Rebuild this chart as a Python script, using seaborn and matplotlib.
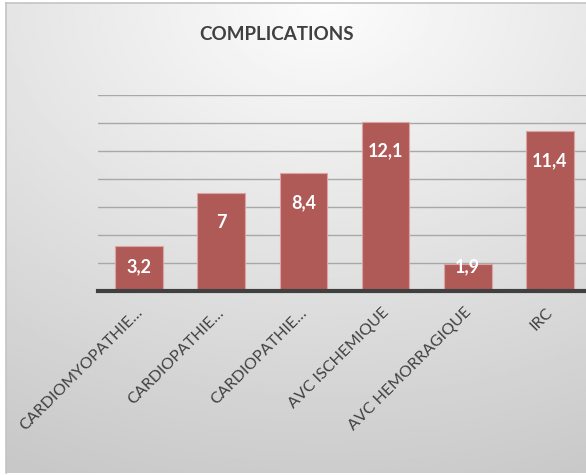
import numpy as np
import pandas as pd
import matplotlib
matplotlib.use("Agg")
import matplotlib.pyplot as plt
import matplotlib.transforms as mtrans
import seaborn as sns

categories = ["CARDIOMYOPATHIE…", "CARDIOPATHIE…", "CARDIOPATHIE…",
              "AVC ISCHEMIQUE", "AVC HEMORRAGIQUE", "IRC"]
values = [3.2, 7.0, 8.4, 12.1, 1.9, 11.4]
value_labels = ["3,2", "7", "8,4", "12,1", "1,9", "11,4"]
title = "COMPLICATIONS"

sns.set_theme(style="white")
plt.rcParams["font.family"] = ["Lato", "DejaVu Sans"]

W, H = 586, 475
fig = plt.figure(figsize=(W / 100, H / 100), dpi=100)

# background gradient panel
bg = fig.add_axes([6 / W, 2 / H, 1 - 6 / W, 1 - 5 / H])
yy, xx = np.mgrid[0:1:200j, 0:1:200j]
d = np.sqrt(((xx - 0.55) * 1.0) ** 2 + (yy * 1.1) ** 2)
img = 252 - 52 * np.clip(d, 0, 1.2) / 1.2
bg.imshow(img, cmap="gray", vmin=0, vmax=255, aspect="auto", extent=[0, 1, 1, 0])
bg.set_xticks([]); bg.set_yticks([])
for s in ["right", "bottom"]:
    bg.spines[s].set_visible(False)
for s in ["left", "top"]:
    bg.spines[s].set_color("#c4c4c4")
    bg.spines[s].set_linewidth(1.2)

ax = fig.add_axes([98 / W, (H - 291) / H, 493 / W, (291 - 95) / H])
ax.set_facecolor("none")
df = pd.DataFrame({"cat": range(len(categories)), "val": values})
sns.barplot(data=df, x="cat", y="val", color="#b05a58", width=0.58,
            edgecolor="#dca3a3", linewidth=0.8, saturation=1, ax=ax, zorder=3)

ax.set_xlim(-0.5, len(categories) - 0.5)
ax.set_ylim(0, 14)
ax.set_yticks(np.arange(2, 15, 2))
ax.yaxis.grid(True, color="#a8a8a8", linewidth=1.0, zorder=0)
ax.set_axisbelow(True)
ax.tick_params(axis="y", left=False, labelleft=False)
ax.tick_params(axis="x", bottom=False, pad=0)
for s in ["left", "right", "top"]:
    ax.spines[s].set_visible(False)
ax.spines["bottom"].set_color("#404040")
ax.spines["bottom"].set_linewidth(3)
ax.spines["bottom"].set_zorder(5)
ax.set_xlabel(""); ax.set_ylabel("")
ax.set_xticks(range(len(categories)))
ax.set_xticklabels(categories, rotation=45, ha="right", va="center",
                   rotation_mode="anchor", fontsize=11.5, color="#404040")
for lbl in ax.get_xticklabels():
    lbl.set_transform(lbl.get_transform() +
                      mtrans.ScaledTranslation(1 / 100, -11 / 100, fig.dpi_scale_trans))

for i, (v, t) in enumerate(zip(values, value_labels)):
    ax.text(i, max(v - 2.1, 1.7), t, ha="center", va="center", color="white",
            fontsize=13, fontweight="bold", zorder=6)

fig.text(276 / W, 1 - 35 / H, title, ha="center", va="center",
         fontsize=13.5, fontweight="bold", color="#404040")

fig.savefig("out.png", dpi=100)
